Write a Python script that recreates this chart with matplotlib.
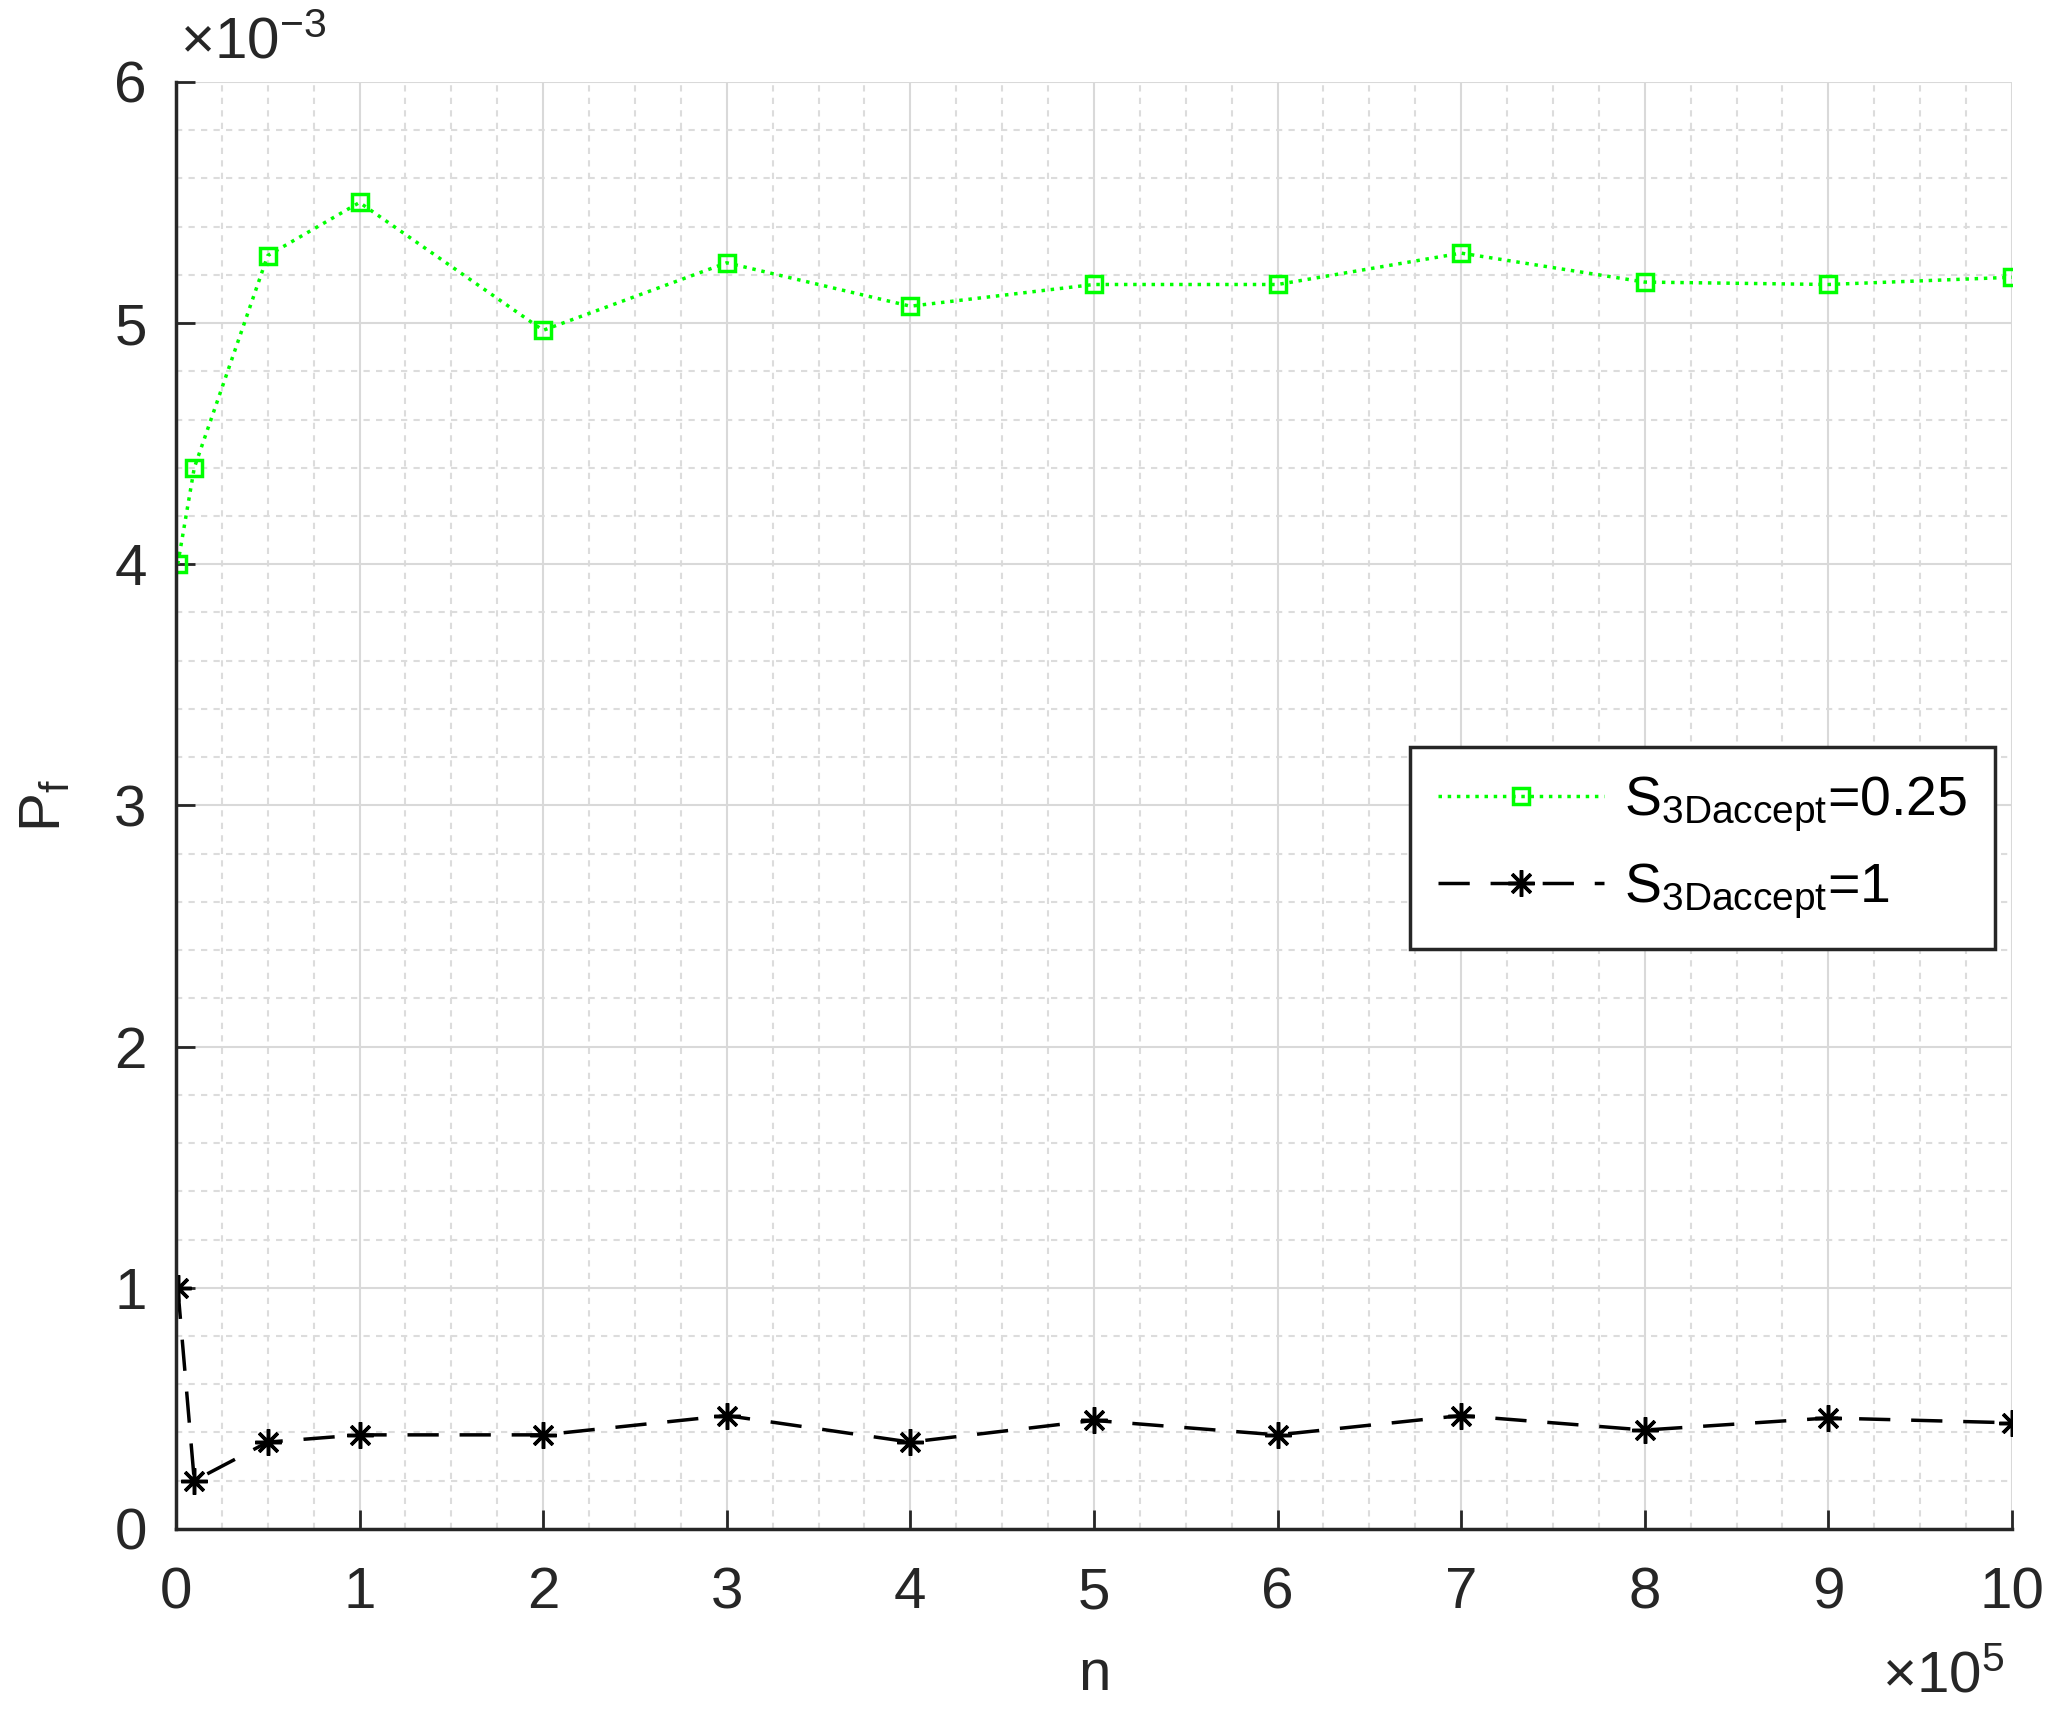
import matplotlib
matplotlib.use("Agg")
import matplotlib.pyplot as plt
import numpy as np
from matplotlib.ticker import MultipleLocator, FixedLocator

plt.rcParams['font.family'] = ['Liberation Sans', 'DejaVu Sans']
plt.rcParams['mathtext.fontset'] = 'custom'
plt.rcParams['mathtext.rm'] = 'Liberation Sans'
plt.rcParams['mathtext.it'] = 'Liberation Sans'

# Data
n_values = [1e3, 1e4, 5e4, 1e5, 2e5, 3e5, 4e5, 5e5, 6e5, 7e5, 8e5, 9e5, 1e6]
pf_s025 = [4.00e-3, 4.40e-3, 5.28e-3, 5.50e-3, 4.97e-3, 5.25e-3, 5.07e-3,
           5.16e-3, 5.16e-3, 5.29e-3, 5.17e-3, 5.16e-3, 5.19e-3]
pf_s1 = [1.00e-3, 0.20e-3, 0.36e-3, 0.39e-3, 0.39e-3, 0.47e-3, 0.36e-3,
         0.45e-3, 0.39e-3, 0.47e-3, 0.41e-3, 0.46e-3, 0.44e-3]
labels = [r'S$_{\mathregular{3Daccept}}$=0.25', r'S$_{\mathregular{3Daccept}}$=1']
x_ticks = list(range(0, 11))
y_ticks = list(range(0, 7))
x_scale = 1e5
y_scale = 1e-3

fig = plt.figure(figsize=(20.6, 17.28), dpi=100)
ax = fig.add_axes([0.0854, 0.1152, 0.8913, 0.8374])

xs = np.array(n_values) / x_scale
ax.plot(xs, np.array(pf_s025) / y_scale, linestyle=':', color='#00ff00', lw=2.5,
        marker='s', markersize=12, markerfacecolor='none', markeredgecolor='#00ff00',
        markeredgewidth=2.5, label=labels[0])
ax.plot(xs, np.array(pf_s1) / y_scale, linestyle=(0, (9, 6)), color='black', lw=2.5,
        marker=(8, 2, 0), markersize=19, markeredgewidth=2.5, markeredgecolor='black',
        label=labels[1])

ax.set_xlim(0, 10)
ax.set_ylim(0, 6)
ax.xaxis.set_major_locator(FixedLocator(x_ticks))
ax.yaxis.set_major_locator(FixedLocator(y_ticks))
ax.xaxis.set_minor_locator(MultipleLocator(0.25))
ax.yaxis.set_minor_locator(MultipleLocator(0.2))

tc = '#262626'
ax.grid(True, which='major', color='#d9d9d9', lw=1.5)
ax.grid(True, which='minor', color='#dcdcdc', lw=1.5, linestyle=(0, (3, 3)))
ax.set_axisbelow(True)
ax.tick_params(which='major', direction='in', length=14, width=2, colors=tc,
               labelsize=42, top=False, right=False)
ax.tick_params(axis='x', which='major', pad=27)
ax.tick_params(axis='y', which='major', pad=21)
ax.tick_params(which='minor', length=0)
for s in ['top', 'right']:
    ax.spines[s].set_visible(False)
for s in ['left', 'bottom']:
    ax.spines[s].set_color(tc)
    ax.spines[s].set_linewidth(2.5)

ax.set_xlabel('n', fontsize=42, color=tc, labelpad=20)
ax.set_ylabel(r'P$_{\mathregular{f}}$', fontsize=42, color=tc, labelpad=30)

ax.text(0.002, 1.008, r'$\times\mathregular{10^{-3}}$', transform=ax.transAxes,
        fontsize=42, color=tc, ha='left', va='bottom')
ax.text(0.996, -0.083, r'$\times\mathregular{10^{5}}$', transform=ax.transAxes,
        fontsize=42, color=tc, ha='right', va='top')

leg = ax.legend(loc='upper left', bbox_to_anchor=(0.672, 0.5404), fontsize=40,
                frameon=True, fancybox=False, edgecolor='#262626', framealpha=1,
                handlelength=3.0, borderpad=0.5, labelspacing=0.5, handletextpad=0.35,
                borderaxespad=0)
leg.get_frame().set_linewidth(2.5)

fig.savefig('out.png', dpi=100)
